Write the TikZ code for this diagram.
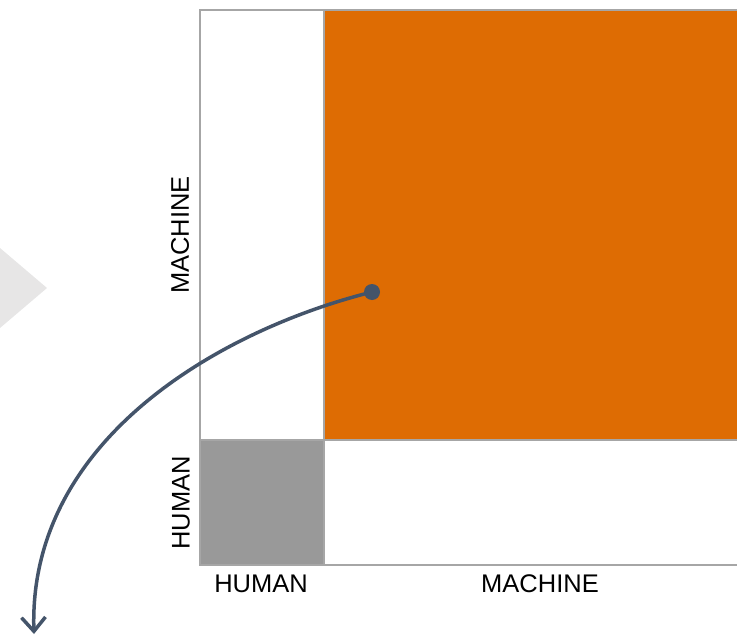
\documentclass[tikz,border=0pt]{standalone}
\usepackage{fontspec}
\setmainfont{Liberation Sans}
\usetikzlibrary{arrows.meta}
\definecolor{chevrongray}{HTML}{E7E6E6}
\definecolor{cellorange}{HTML}{DE6C03}
\definecolor{cellgray}{HTML}{999999}
\definecolor{linegray}{HTML}{A6A6A6}
\definecolor{pathblue}{HTML}{44546A}
\begin{document}
\begin{tikzpicture}[x=1pt, y=-1pt,
    gridline/.style={draw=linegray, line width=1.5pt},
    axislabel/.style={font=\fontsize{25.5}{30}\selectfont, text=black, inner sep=0pt},
    pointer/.style={draw=pathblue, line width=3.5pt, -{Straight Barb[length=14pt, width=24pt]}}]
    \useasboundingbox (0,0) rectangle (737,637);
    % chevron on the left
    \fill[chevrongray] (0,248) -- (47,288) -- (0,328) -- cycle;
    % cells
    \fill[cellorange] (324,10) rectangle (737,440);
    \fill[cellgray] (200,440) rectangle (324,565);
    \draw[gridline] (737,10) -- (200,10) -- (200,565) -- (737,565);
    \draw[gridline] (324,10) -- (324,565);
    \draw[gridline] (200,440) -- (737,440);
    % labels
    \node[axislabel, rotate=90] (rowmachine) at (180,235) {MACHINE};
    \node[axislabel, rotate=90] (rowhuman) at (181,503) {HUMAN};
    \node[axislabel] (colhuman) at (261,584) {HUMAN};
    \node[axislabel] (colmachine) at (540,584) {MACHINE};
    % pointer
    \node[circle, fill=pathblue, inner sep=0pt, minimum size=16pt] (spot) at (372,292) {};
    \coordinate (tip) at (34,634);
    \draw[pointer] (spot.center) .. controls (220,330) and (28,440) .. (tip);
\end{tikzpicture}
\end{document}
